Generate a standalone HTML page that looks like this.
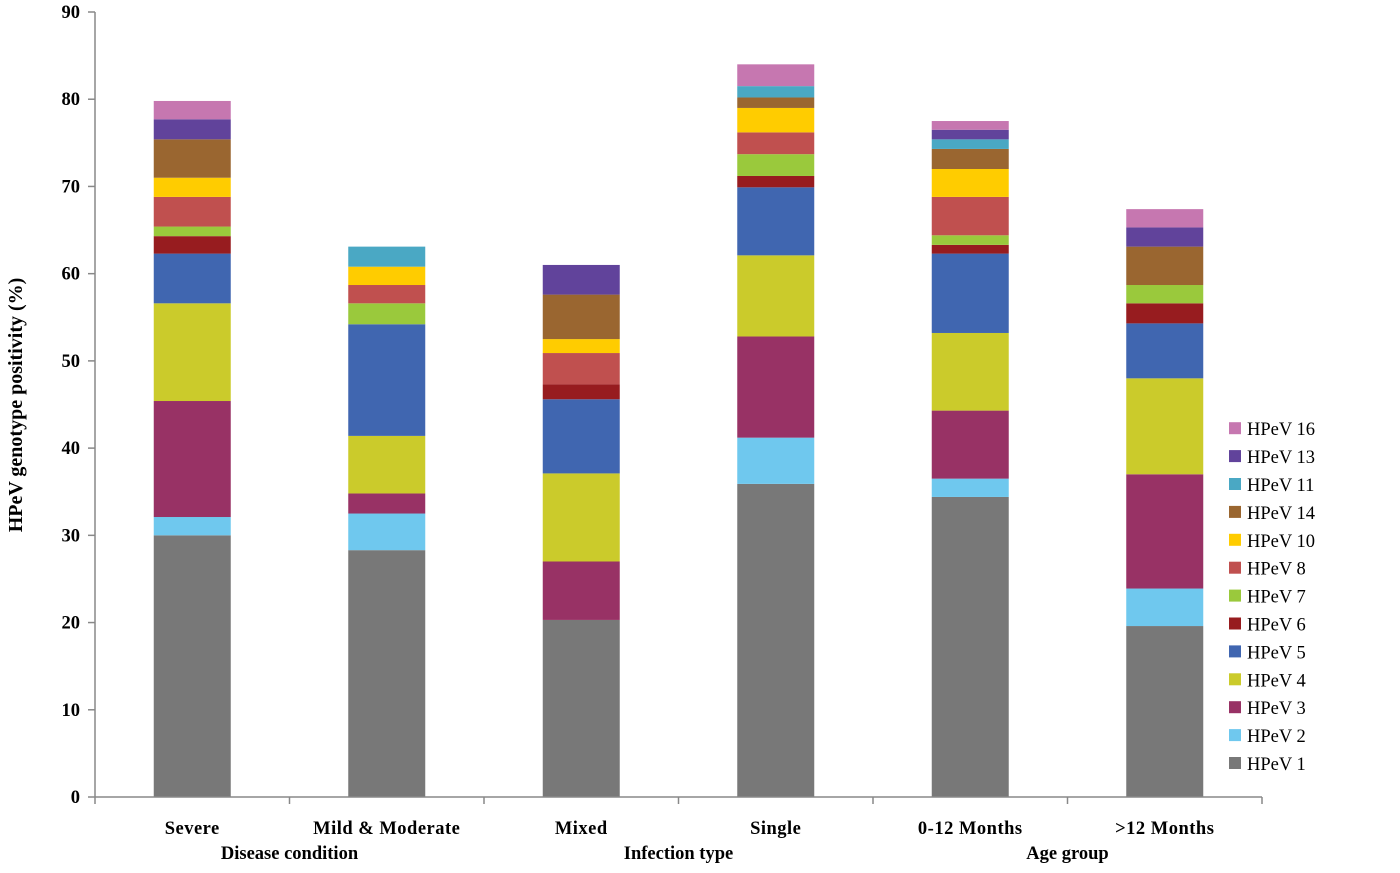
<!DOCTYPE html>
<html><head><meta charset="utf-8"><style>
body{margin:0;background:#fff;}
svg text{font-family:"Liberation Serif",serif;font-weight:bold;fill:#000;}
</style></head><body>
<svg id="chart" width="1400" height="868"></svg>
<script>
const categories=["Severe","Mild & Moderate","Mixed","Single","0-12 Months",">12 Months"];
const groupLabels=["Disease condition","Infection type","Age group"];
const seriesNames=["HPeV 1","HPeV 2","HPeV 3","HPeV 4","HPeV 5","HPeV 6","HPeV 7","HPeV 8","HPeV 10","HPeV 14","HPeV 11","HPeV 13","HPeV 16"];
const seriesColors=["#787878","#6fc8ee","#983265","#cbcb2b","#4066b0","#971c1f","#9ac93c","#c0504f","#ffcc00","#9a6630","#4aa8c4","#61439b","#c677b0"];
const hpev1=[30.0,28.3,20.3,35.9,34.4,19.6];
const hpev2=[2.1,4.2,0,5.3,2.1,4.3];
const hpev3=[13.3,2.3,6.7,11.6,7.8,13.1];
const hpev4=[11.2,6.6,10.1,9.3,8.9,11.0];
const hpev5=[5.7,12.8,8.5,7.8,9.1,6.3];
const hpev6=[2.0,0,1.7,1.3,1.0,2.3];
const hpev7=[1.1,2.4,0,2.5,1.1,2.1];
const hpev8=[3.4,2.1,3.6,2.5,4.4,0];
const hpev10=[2.2,2.1,1.6,2.8,3.2,0];
const hpev14=[4.4,0,5.1,1.2,2.3,4.4];
const hpev11=[0,2.3,0,1.3,1.1,0];
const hpev13=[2.3,0,3.4,0,1.1,2.2];
const hpev16=[2.1,0,0,2.5,1.0,2.1];
const yTicks=[0,10,20,30,40,50,60,70,80,90];

const series=[hpev1,hpev2,hpev3,hpev4,hpev5,hpev6,hpev7,hpev8,hpev10,hpev14,hpev11,hpev13,hpev16];
const NS="http://www.w3.org/2000/svg";
const svg=document.getElementById('chart');
const X0=95,X1=1262,Y0=797,Y1=12,YMAX=90;
const band=(X1-X0)/categories.length;
const y=v=>Y0-(v/YMAX)*(Y0-Y1);
const xc=i=>X0+band*(i+0.5);
function mk(t,a){const e=document.createElementNS(NS,t);for(const k in a)e.setAttribute(k,a[k]);svg.appendChild(e);return e;}

categories.forEach((c,i)=>{
  let cum=0;
  series.forEach((s,j)=>{
    const v=s[i];if(v<=0)return;
    const r=mk('rect',{x:xc(i)-38.5,y:y(cum+v),width:77,height:y(cum)-y(cum+v),fill:seriesColors[j]});
    
    
    cum+=v;
  });
});
const ya=mk('line',{x1:X0,y1:Y1,x2:X0,y2:Y0,stroke:'#888','stroke-width':1.5});


const xa=mk('line',{x1:X0,y1:Y0,x2:X1,y2:Y0,stroke:'#888','stroke-width':1.5});


yTicks.forEach(t=>{
  mk('line',{x1:X0-7,y1:y(t),x2:X0,y2:y(t),stroke:'#888','stroke-width':1.5});
  const tx=mk('text',{x:X0-15,y:y(t)+6,'text-anchor':'end','font-size':18.5});
  tx.textContent=t;
  
  
});
for(let i=0;i<=categories.length;i++){
  mk('line',{x1:X0+band*i,y1:Y0,x2:X0+band*i,y2:Y0+7,stroke:'#888','stroke-width':1.5});
}
categories.forEach((c,i)=>{
  const tx=mk('text',{x:xc(i),y:834,'text-anchor':'middle','font-size':18.5,'letter-spacing':'0.5'});
  tx.textContent=c;
  
  
});
groupLabels.forEach((g,k)=>{
  const tx=mk('text',{x:X0+band*(2*k+1),y:859,'text-anchor':'middle','font-size':18.5});
  tx.textContent=g;
  
  
});
const yt=mk('text',{x:0,y:0,'text-anchor':'middle','font-size':20,transform:'translate(22,405) rotate(-90)'});
yt.textContent='HPeV genotype positivity  (%)';


seriesNames.forEach((n,j)=>{
  const ly=763-j*27.9;
  const g=mk('rect',{x:1229,y:ly-6,width:12,height:12,fill:seriesColors[j]});
  
  
  const tx=mk('text',{x:1247,y:ly+7,'font-size':18.5});
  tx.style.fontWeight='normal';
  tx.textContent=n;
  
  
});
</script>
</body></html>
